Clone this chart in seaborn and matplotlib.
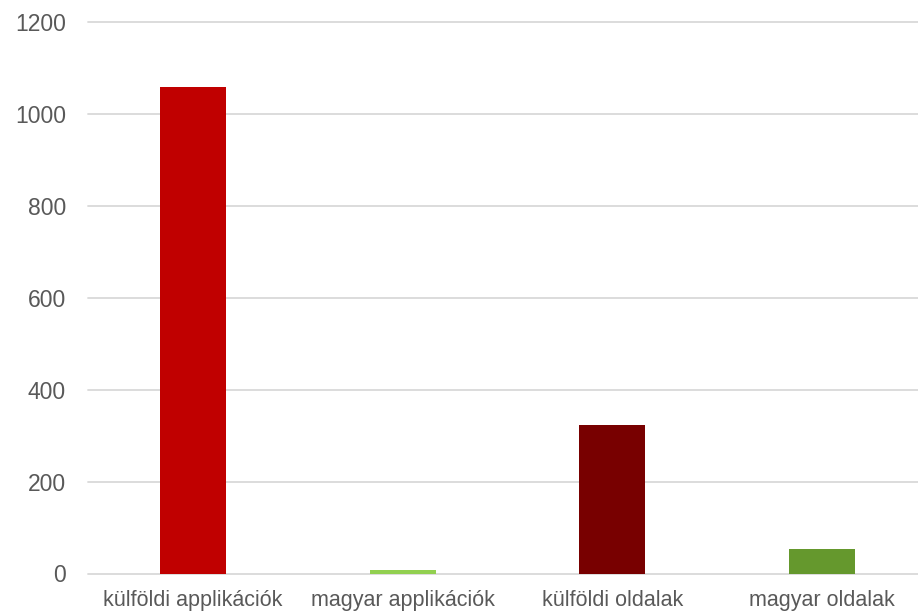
import matplotlib
matplotlib.use("Agg")
import matplotlib.pyplot as plt
import seaborn as sns
import pandas as pd

categories = ["külföldi applikációk", "magyar applikációk", "külföldi oldalak", "magyar oldalak"]
values = [1060, 8, 323, 53]
colors = ["#C00000", "#92D050", "#780000", "#65982D"]
yticks = [0, 200, 400, 600, 800, 1000, 1200]

sns.set_theme(style="white")
plt.rcParams['font.family'] = ['Liberation Sans', 'DejaVu Sans']

df = pd.DataFrame({"cat": categories, "val": values})

W, H = 918, 611
fig = plt.figure(figsize=(W/100, H/100), dpi=100)
ax = fig.add_axes([88/W, 1 - 573.5/H, (918-88)/W, (573.5-22.5)/H])

sns.barplot(data=df, x="cat", y="val", hue="cat", palette=colors, legend=False,
            width=0.314, saturation=1, linewidth=0, ax=ax, zorder=3)

ax.set_ylim(0, 1200)
ax.set_xlim(-0.5, 3.5 - 9/210)
ax.set_yticks(yticks)
ax.set_yticklabels([str(t) for t in yticks])
ax.grid(axis="y", color="#D9D9D9", linewidth=1.3, zorder=0)
ax.grid(axis="x", visible=False)
for gl in ax.get_ygridlines():
    gl.set_clip_on(False)
for s in ax.spines.values():
    s.set_visible(False)
ax.tick_params(axis="both", length=0, colors="#595959")
ax.tick_params(axis="y", labelsize=16.5, pad=16)
ax.tick_params(axis="x", labelsize=15.5, pad=12)
ax.set_xlabel("")
ax.set_ylabel("")

fig.savefig("out.png", dpi=100)
